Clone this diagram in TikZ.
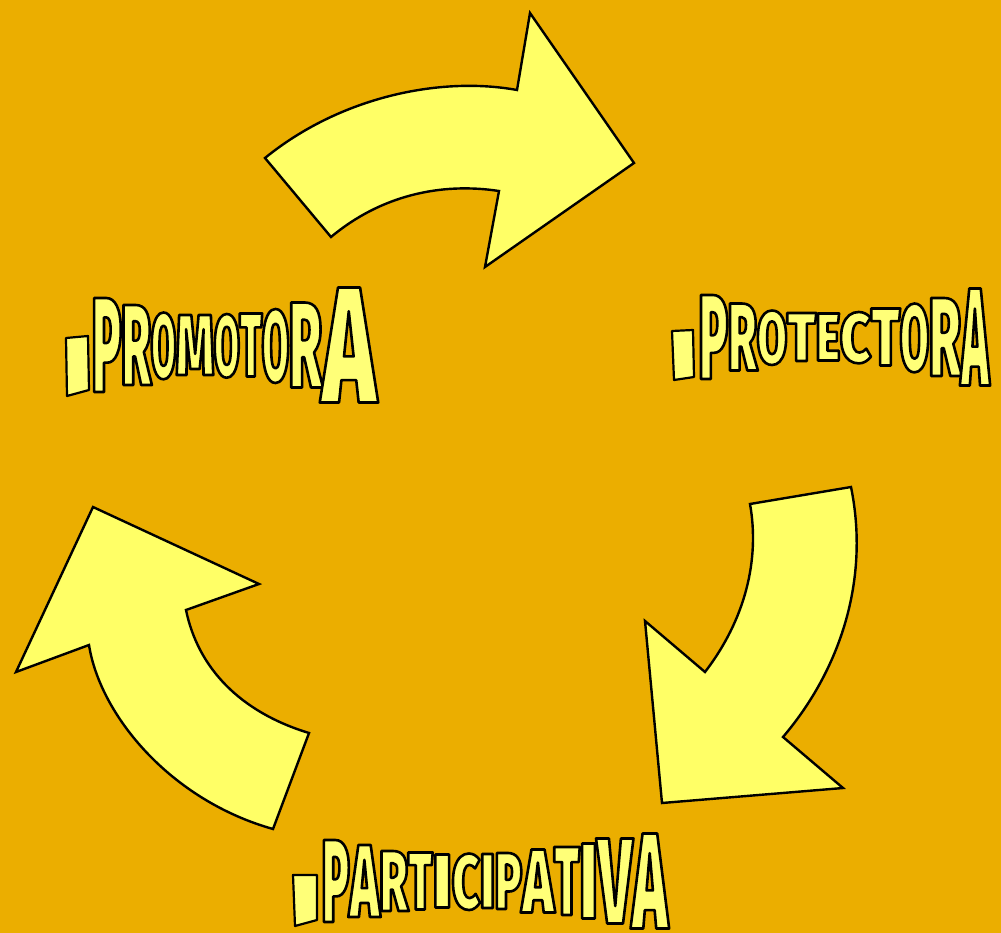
\documentclass[tikz,border=0pt]{standalone}
\usepackage{fontspec}
\IfFontExistsTF{Fira Sans Black}{\newfontfamily\wafont{Fira Sans Black}}{%
  \IfFontExistsTF{Lato Black}{\newfontfamily\wafont{Lato Black}}{%
    \newfontfamily\wafont{Liberation Sans Bold}}}
\definecolor{bg}{RGB}{235,174,0}
\definecolor{arrowfill}{RGB}{255,255,102}
\definecolor{wordfill}{RGB}{255,255,120}
\makeatletter
% #1 letter height (px), #2 letter advance width (px), #3 letter
\newcommand\WL[3]{%
  \begingroup
  \fontsize{100}{100}\selectfont
  \setbox\z@\hbox{#3}%
  \pgfmathsetmacro\wl@S{100*#1/\the\ht\z@}%
  \fontsize{\wl@S}{\wl@S}\selectfont
  \setbox\z@\hbox{#3}%
  \pgfmathsetmacro\wl@X{#2/\the\wd\z@}%
  \edef\wl@cmd{\noexpand\addfontfeatures{FakeStretch=\wl@X}}\wl@cmd
  \raisebox{-0.5\height}{#3}%
  \endgroup}
\makeatother
\newcommand\WAon{\special{pdf:literal direct 0 0 0 RG 2 Tr 2.6 w 1 j}}
\newcommand\WAoff{\special{pdf:literal direct 0 Tr}}
\begin{document}
\begin{tikzpicture}[x=1pt,y=-1pt,
  bigarrow/.style={fill=arrowfill,draw=black,line width=2.4pt,line join=miter},
  bulletbox/.style={fill=wordfill,draw=black,line width=2.2pt,line join=round},
  wordart/.style={inner sep=0pt,outer sep=0pt,anchor=west,text=wordfill,font=\wafont}]
\fill[bg] (0,0) rectangle (1001,933);
\useasboundingbox (0,0) rectangle (1001,933);

% top arrow
\draw[bigarrow] (265,158) .. controls (340,97) and (440,76) .. (517,90)
  -- (530,13) -- (634,163) -- (485,267) -- (499,191)
  .. controls (440,182) and (380,196) .. (331,237) -- cycle;
% right arrow
\draw[bigarrow] (851,487) -- (750,504) .. controls (760,560) and (745,620) .. (705,672)
  -- (645,621) -- (662,803) -- (843,788) -- (783,737)
  .. controls (840,670) and (870,580) .. (851,487) -- cycle;
% left arrow
\draw[bigarrow] (273,829) -- (309,733) .. controls (240,712) and (198,668) .. (186,610)
  -- (259,584) -- (93,507) -- (16,672) -- (89,645)
  .. controls (100,715) and (170,800) .. (273,829) -- cycle;

% bullets
\draw[bulletbox] (66,338) -- (88,336) -- (89,390) -- (67,396) -- cycle;
\draw[bulletbox] (672,331) -- (693,330) -- (694,377) -- (674,380) -- cycle;
\draw[bulletbox] (293,875) -- (317,875) -- (317,920) -- (295,926) -- cycle;

% words
\node[wordart] (promotora) at (92,345) {\WAon%
\WL{94}{29.5}{P}\WL{80}{29.5}{R}\WL{65}{25}{O}\WL{60}{38}{M}\WL{62}{25.5}{O}%
\WL{63}{22.5}{T}\WL{72}{27}{O}\WL{85}{33}{R}\WL{115}{54}{A}\WAoff};

\node[wordart] (protectora) at (699,337) {\WAon%
\WL{84}{29}{P}\WL{67}{29}{R}\WL{53}{30}{O}\WL{48}{29}{T}\WL{47}{24}{E}%
\WL{50}{31}{C}\WL{57}{29}{T}\WL{67}{29}{O}\WL{78}{32}{R}\WL{97}{28}{A}\WAoff};

\node[wordart] (participativa) at (322,881) {\WAon%
\WL{82}{27.5}{P}\WL{72}{30}{A}\WL{60}{28.5}{R}\WL{57}{24.5}{T}\WL{53}{19.5}{I}%
\WL{55}{28}{C}\WL{54}{15}{I}\WL{56}{27}{P}\WL{63}{32}{A}\WL{68}{25.5}{T}%
\WL{75}{18}{I}\WL{85}{34.5}{V}\WL{95}{35.7}{A}\WAoff};
\end{tikzpicture}
\end{document}
